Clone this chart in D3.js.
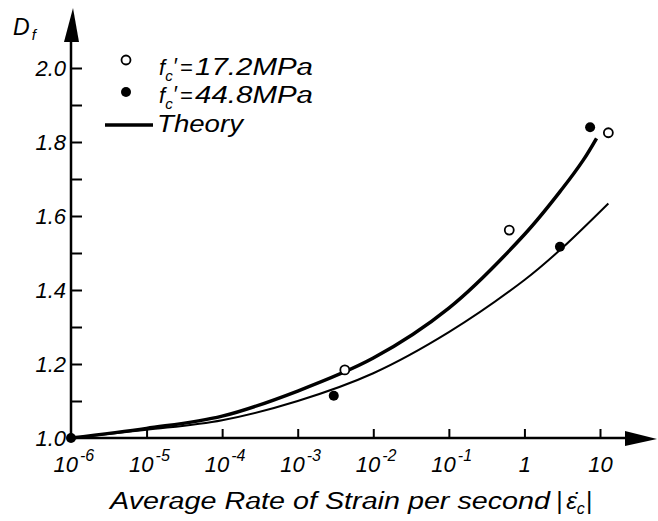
<!DOCTYPE html>
<html lang="en">
<head>
<meta charset="UTF-8">
<title>Dynamic increase factor vs strain rate</title>
<script src="https://d3js.org/d3.v7.min.js"></script>
<style>
    body { margin: 0; background: #fff; }
    text { font-family: "Liberation Sans", Arial, sans-serif; font-style: italic; fill: #000; }
    .axis .domain { display: none; }
    .axis line { stroke: #000; stroke-width: 2; }
</style>
</head>
<body>
<script>
// strain rate ticks (per second) and their labels
const xTicks = [1e-6, 1e-5, 1e-4, 1e-3, 1e-2, 1e-1, 1, 10];
const xTickLabels = ["10^-6", "10^-5", "10^-4", "10^-3", "10^-2", "10^-1", "1", "10"];
const yMajor = [1.0, 1.2, 1.4, 1.6, 1.8, 2.0];
const yMinor = [1.1, 1.3, 1.5, 1.7, 1.9];
const yTickLabels = ["1.0", "1.2", "1.4", "1.6", "1.8", "2.0"];

// test points, f'c = 17.2 MPa (open) and 44.8 MPa (filled)
const rate172 = [4.2e-3, 0.63, 12.9];
const df172 = [1.184, 1.562, 1.825];
const rate448 = [1e-6, 3.0e-3, 2.95, 7.4];
const df448 = [1.0, 1.114, 1.517, 1.84];

// theory curves
const theoryRateA = [1e-6, 1e-5, 1e-4, 1e-3, 1e-2, 1e-1, 1, 3.2, 6.0, 9.0];
const theoryDfA = [1.0, 1.026, 1.059, 1.127, 1.216, 1.351, 1.55, 1.675, 1.751, 1.81];
const theoryRateB = [1e-6, 1e-5, 1e-4, 1e-3, 1e-2, 1e-1, 1, 2.95, 12.9];
const theoryDfB = [1.0, 1.022, 1.048, 1.100, 1.175, 1.286, 1.427, 1.508, 1.634];

const W = 658, H = 521;
const svg = d3.select("body").append("svg")
    .attr("width", W)
    .attr("height", H);

const x = d3.scaleLog().domain([1e-6, 10]).range([71, 600]);
const y = d3.scaleLinear().domain([1.0, 2.0]).range([438, 68]);

// axis lines with arrow heads
svg.append("line")
    .attr("x1", x(1e-6)).attr("y1", y(1.0))
    .attr("x2", 630).attr("y2", y(1.0))
    .attr("stroke", "#000").attr("stroke-width", 2.5);
svg.append("path")
    .attr("d", `M625,${y(1.0) - 7}L657,${y(1.0) + 1}L625,${y(1.0) + 8}Z`)
    .attr("fill", "#000");
svg.append("line")
    .attr("x1", x(1e-6)).attr("y1", y(1.0))
    .attr("x2", x(1e-6)).attr("y2", 30)
    .attr("stroke", "#000").attr("stroke-width", 2.5);
svg.append("path")
    .attr("d", `M${x(1e-6) - 7},42L${x(1e-6) + 2},8L${x(1e-6) + 8},42Z`)
    .attr("fill", "#000");

// x axis ticks (pointing up)
const gx = svg.append("g")
    .attr("class", "axis")
    .attr("transform", `translate(0,${y(1.0)})`)
    .call(d3.axisBottom(x).tickValues(xTicks).tickSizeInner(-9).tickSizeOuter(0).tickFormat(""));
gx.selectAll(".tick line").filter((d, i) => i === 0).remove();

gx.selectAll(".tick").each(function(d, i) {
    const lab = xTickLabels[i].split("^");
    const t = d3.select(this).append("text")
        .attr("y", 34)
        .attr("font-size", 22);
    if (lab.length > 1) {
        t.attr("x", -18).attr("text-anchor", "start");
        t.append("tspan").text(lab[0]);
        t.append("tspan")
            .attr("dx", 2)
            .attr("dy", -11)
            .attr("font-size", 16)
            .text(lab[1]);
    } else {
        t.attr("text-anchor", "middle").text(lab[0]);
    }
});

// y axis ticks (pointing right)
const gy = svg.append("g")
    .attr("class", "axis")
    .attr("transform", `translate(${x(1e-6)},0)`)
    .call(d3.axisLeft(y).tickValues(yMajor).tickSizeInner(-11).tickSizeOuter(0)
        .tickFormat((d, i) => yTickLabels[i]));
gy.selectAll(".tick line").filter((d, i) => i === 0).remove();
gy.selectAll(".tick text")
    .attr("x", -5)
    .attr("dy", "0.36em")
    .attr("font-size", 22)
    .attr("fill", "#000");

svg.append("g")
    .attr("class", "axis")
    .attr("transform", `translate(${x(1e-6)},0)`)
    .call(d3.axisLeft(y).tickValues(yMinor).tickSizeInner(-11).tickSizeOuter(0).tickFormat(""));

// theory curves
const line = d3.line()
    .x(d => x(d[0]))
    .y(d => y(d[1]))
    .curve(d3.curveCatmullRom.alpha(0.5));

svg.append("path")
    .datum(d3.zip(theoryRateA, theoryDfA))
    .attr("d", line)
    .attr("fill", "none")
    .attr("stroke", "#000")
    .attr("stroke-width", 3.5);

svg.append("path")
    .datum(d3.zip(theoryRateB, theoryDfB))
    .attr("d", line)
    .attr("fill", "none")
    .attr("stroke", "#000")
    .attr("stroke-width", 2);

// test points
svg.selectAll(".open")
    .data(d3.zip(rate172, df172))
    .enter()
    .append("circle")
    .attr("class", "open")
    .attr("cx", d => x(d[0]))
    .attr("cy", d => y(d[1]))
    .attr("r", 4.5)
    .attr("fill", "#fff")
    .attr("stroke", "#000")
    .attr("stroke-width", 1.8);

svg.selectAll(".filled")
    .data(d3.zip(rate448, df448))
    .enter()
    .append("circle")
    .attr("class", "filled")
    .attr("cx", d => x(d[0]))
    .attr("cy", d => y(d[1]))
    .attr("r", 5)
    .attr("fill", "#000");

// y axis title
const dt = svg.append("text").attr("x", 13).attr("y", 35).attr("font-size", 23);
dt.append("tspan").text("D");
dt.append("tspan").attr("font-size", 15).attr("dx", 2).attr("dy", 5).text("f");

// legend
function fc(yb, val) {
    const t = svg.append("text").attr("x", 159).attr("y", yb).attr("font-size", 22);
    t.append("tspan").text("f");
    t.append("tspan").attr("font-size", 15).attr("dy", 6).text("c");
    t.append("tspan").attr("dx", 0).attr("dy", -8).text("′");
    t.append("tspan").attr("dx", 3).attr("dy", 2).text("=");
    svg.append("text").attr("x", 195).attr("y", yb).attr("font-size", 23)
        .attr("textLength", 118).attr("lengthAdjust", "spacingAndGlyphs")
        .text(val + "MPa");
}
svg.append("circle").attr("cx", 126).attr("cy", 60).attr("r", 4.5)
    .attr("fill", "#fff").attr("stroke", "#000").attr("stroke-width", 1.8);
fc(75, "17.2");
svg.append("circle").attr("cx", 126).attr("cy", 92).attr("r", 5).attr("fill", "#000");
fc(103, "44.8");
svg.append("line").attr("x1", 105).attr("x2", 153).attr("y1", 125).attr("y2", 125)
    .attr("stroke", "#000").attr("stroke-width", 3.5);
svg.append("text").attr("x", 157).attr("y", 132).attr("font-size", 23)
    .attr("textLength", 86).attr("lengthAdjust", "spacingAndGlyphs")
    .text("Theory");

// x axis title
svg.append("text")
    .attr("x", 110)
    .attr("y", 509)
    .attr("font-size", 23)
    .attr("textLength", 440)
    .attr("lengthAdjust", "spacingAndGlyphs")
    .text("Average Rate of Strain per second");
const eps = svg.append("text")
    .attr("x", 556)
    .attr("y", 509)
    .attr("font-size", 24);
eps.append("tspan").text("|");
eps.append("tspan").attr("dx", 4).text("\u03B5\u0307");
eps.append("tspan").attr("font-size", 16).attr("dy", 5).text("c");
eps.append("tspan").attr("dx", 1).attr("dy", -5).text("|");
</script>
</body>
</html>
